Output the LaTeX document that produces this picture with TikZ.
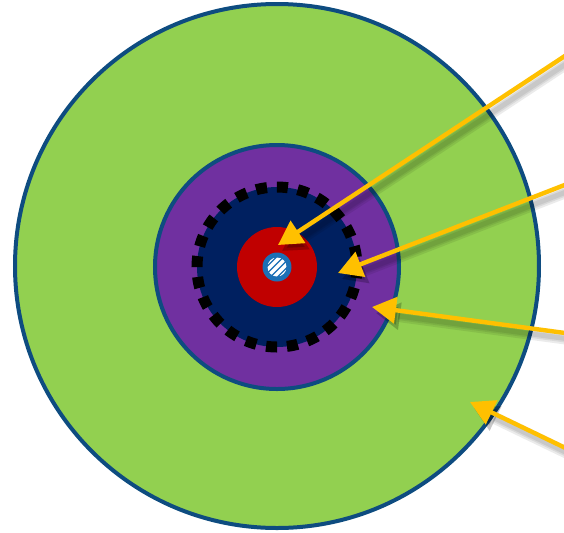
\documentclass[tikz,border=0pt]{standalone}
\definecolor{rgGreen}{RGB}{146,208,80}
\definecolor{rgPurple}{RGB}{112,48,160}
\definecolor{rgNavy}{RGB}{0,32,96}
\definecolor{rgRed}{RGB}{192,0,0}
\definecolor{rgBlue}{RGB}{28,112,182}
\definecolor{rgEdge}{RGB}{14,76,128}
\definecolor{rgArrow}{RGB}{255,192,0}
\usepackage{tikz}
\usetikzlibrary{shapes,arrows.meta,positioning,calc}

\begin{document}
\begin{tikzpicture}[x=0.5pt,y=-0.5pt,
    ring/.style={circle,inner sep=0pt,outer sep=0pt},
    pointer/.style={draw=rgArrow,line width=2.2pt,-{Triangle[length=12pt,width=13pt]}},
    pointershade/.style={draw=black,opacity=0.08,line width=#1,-{Triangle[length=12pt,width=13pt]}}]
    \useasboundingbox (0,0) rectangle (564,532);
    \clip (0,0) rectangle (564,532);

    % Nested rings
    \node[ring, fill=rgGreen, draw=rgEdge, line width=2pt, minimum size=262pt] (outer) at (277,266) {};
    \node[ring, fill=rgPurple, draw=rgEdge, line width=2pt, minimum size=122pt] (layer) at (277,267) {};
    \node[ring, fill=rgNavy, minimum size=80pt] (core) at (277,267) {};
    \draw[black, line width=5.5pt, dash pattern=on 5.5pt off 4.97pt] (core.center) circle[radius=80];
    \node[ring, fill=rgRed, minimum size=40pt] (heart) at (277,267) {};
    \node[ring, fill=rgBlue, minimum size=14.5pt] (seed) at (277,267) {};

    % Stripes in the seed
    \begin{scope}
        \clip (seed.center) circle[radius=9.5];
        \foreach \d in {-14,-7,0,7,14}
            \draw[white, line width=1.6pt] ($(seed.center)+(\d,0)+(-12,12)$) -- ++(24,-24);
    \end{scope}

    % Pointer end points
    \coordinate (s1) at (580,46);   \coordinate (t1) at (278,245);
    \coordinate (s2) at (580,179);  \coordinate (t2) at (338,273);
    \coordinate (s3) at (580,335);  \coordinate (t3) at (372,307);
    \coordinate (s4) at (580,455);  \coordinate (t4) at (470,402);

    % Pointers with soft shade
    \foreach \i in {1,...,4} {
        \foreach \w in {6pt,4pt,2.5pt}
            \draw[pointershade=\w] ([shift={(4,6)}]s\i) -- ([shift={(4,6)}]t\i);
        \draw[pointer] (s\i) -- (t\i);
    }
\end{tikzpicture}
\end{document}
